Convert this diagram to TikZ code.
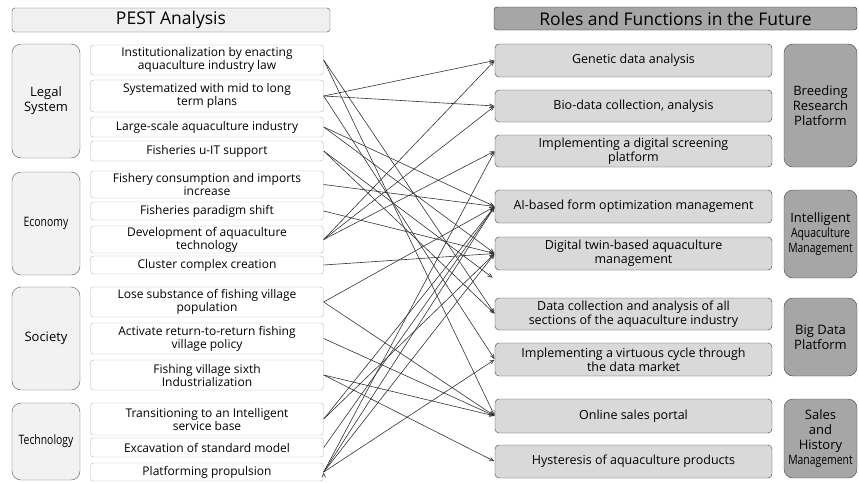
\documentclass[tikz,border=0pt]{standalone}
\usepackage{fontspec}
\setmainfont{Open Sans}
\usepackage{graphicx}
\usetikzlibrary{arrows,positioning}
\newcommand{\cramp}[1]{\scalebox{0.8}[1]{#1}}

\begin{document}
\begin{tikzpicture}[x=1pt, y=-1pt, >=angle 45,
	shorten > = 0.5pt,
	hdr/.style = {draw=black!70, rounded corners=3pt, inner sep=0pt, font=\fontsize{17.5}{19}\selectfont},
	cat/.style = {draw=black!65, rounded corners=9pt, fill=black!5, inner sep=1pt, align=center, font=\fontsize{13}{15}\selectfont},
	pest/.style = {draw=black!28, rounded corners=3pt, fill=white, inner sep=0pt, minimum width=233, align=center, font=\fontsize{12}{13}\selectfont},
	role/.style = {draw=black!75, rounded corners=4pt, fill=black!15, inner sep=0pt, minimum width=277, align=center, font=\fontsize{12.5}{14}\selectfont},
	grp/.style = {draw=black!75, rounded corners=9pt, fill=black!35, inner sep=1pt, minimum width=73, align=center, font=\fontsize{13}{15}\selectfont},
	conn/.style = {draw=black!80, line width=0.6pt}
	]
	\useasboundingbox (0,0) rectangle (859,482);
	
	% headers
	\node (hpest) [hdr, fill=black!6, minimum width=318, minimum height=24] at (171,20) {PEST Analysis};
	\node (hrole) [hdr, fill=black!35, draw=black!85, minimum width=363, minimum height=23] at (675.5,18.5) {Roles and Functions in the Future};
	
	% PEST categories
	\node (legal) [cat, minimum width=68, minimum height=114] at (46,101)   {Legal\\System};
	\node (econ)  [cat, minimum width=68, minimum height=103] at (46,223.5) {\cramp{Economy}};
	\node (soc)   [cat, minimum width=68, minimum height=103] at (46,338.5) {Society};
	\node (tech)  [cat, minimum width=68, minimum height=77]  at (46,441.5) {\cramp{Technology}};
	
	% PEST items
	\node (inst)     [pest, minimum height=30] at (207,60)    {Institutionalization by enacting\\aquaculture industry law};
	\node (syst)     [pest, minimum height=32] at (207,96)    {Systematized with mid to long\\term plans};
	\node (large)    [pest, minimum height=20] at (207,127)   {Large-scale aquaculture industry};
	\node (uit)      [pest, minimum height=20] at (207,151)   {Fisheries u-IT support};
	\node (fcons)    [pest, minimum height=27] at (207,184.5) {Fishery consumption and imports\\increase};
	\node (paradigm) [pest, minimum height=18] at (207,211)   {Fisheries paradigm shift};
	\node (develop)  [pest, minimum height=27] at (207,239.5) {Development of aquaculture\\technology};
	\node (cluster)  [pest, minimum height=18] at (207,265)   {Cluster complex creation};
	\node (lose)     [pest, minimum height=30] at (207,302)   {Lose substance of fishing village\\population};
	\node (activate) [pest, minimum height=31] at (207,338.5) {Activate return-to-return fishing\\village policy};
	\node (sixth)    [pest, minimum height=30] at (207,375)   {Fishing village sixth\\Industrialization};
	\node (transit)  [pest, minimum height=32] at (207,419)   {Transitioning to an Intelligent\\service base};
	\node (excav)    [pest, minimum height=19] at (207,447.5) {Excavation of standard model};
	\node (platf)    [pest, minimum height=18] at (207,472)   {Platforming propulsion};
	
	% future roles
	\node (genetic)  [role, minimum height=33] at (633.5,60.5)  {Genetic data analysis};
	\node (bio)      [role, minimum height=32] at (633.5,106)   {Bio-data collection, analysis};
	\node (screen)   [role, minimum height=32] at (633.5,151)   {Implementing a digital screening\\platform};
	\node (ai)       [role, minimum height=33] at (633.5,206.5) {AI-based form optimization management};
	\node (twin)     [role, minimum height=33] at (633.5,253.5) {Digital twin-based aquaculture\\management};
	\node (dcoll)    [role, minimum height=32] at (633.5,314)   {Data collection and analysis of all\\sections of the aquaculture industry};
	\node (virtuous) [role, minimum height=33] at (633.5,359.5) {Implementing a virtuous cycle through\\the data market};
	\node (online)   [role, minimum height=34] at (633.5,416)   {Online sales portal};
	\node (hyst)     [role, minimum height=33] at (633.5,461.5) {Hysteresis of aquaculture products};
	
	% role groups
	\node (breed)  [grp, minimum height=123] at (820.5,105.5) {Breeding\\Research\\Platform};
	\node (intel)  [grp, minimum height=88]  at (820.5,234)   {Intelligent\\\cramp{Aquaculture}\\\cramp{Management}};
	\node (bigd)   [grp, minimum height=78]  at (820.5,337)   {Big Data\\Platform};
	\node (sales)  [grp, minimum height=79]  at (820.5,438.5) {Sales\\and\\History\\\cramp{Management}};
	
	\coordinate (loose) at (493,278);
	
	\path[->, conn]
	(inst.east)     edge (dcoll.west)
	(inst.east)     edge (online.west)
	(syst.east)     edge (genetic.west)
	(syst.east)     edge (bio.west)
	(syst.east)     edge (virtuous.west)
	(large.east)    edge (ai.west)
	(large.east)    edge (twin.west)
	(uit.east)      edge (dcoll.west)
	(uit.east)      edge (loose)
	(fcons.east)    edge (ai.west)
	(paradigm.east) edge (twin.west)
	(develop.east)  edge (genetic.west)
	(develop.east)  edge (bio.west)
	(develop.east)  edge (screen.west)
	(cluster.east)  edge (twin.west)
	(lose.east)     edge (ai.west)
	(lose.east)     edge (online.west)
	(activate.east) edge (online.west)
	(sixth.east)    edge (online.west)
	(sixth.east)    edge (hyst.west)
	(transit.east)  edge (ai.west)
	(transit.east)  edge (twin.west)
	(excav.east)    edge (ai.west)
	(platf.east)    edge (screen.west)
	(platf.east)    edge (ai.west)
	(platf.east)    edge (twin.west)
	(platf.east)    edge (virtuous.west);
\end{tikzpicture}
\end{document}
